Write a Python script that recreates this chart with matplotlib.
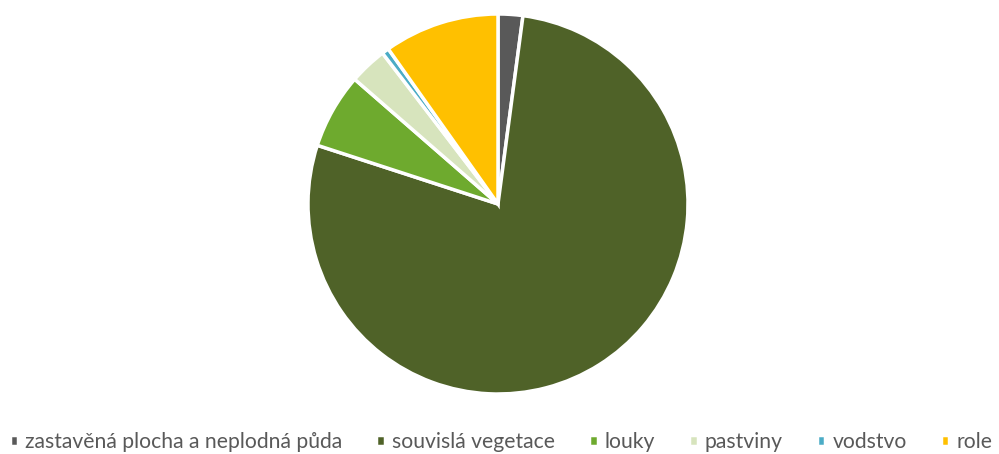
import matplotlib
matplotlib.use("Agg")
import matplotlib.pyplot as plt

labels = ["zastavěná plocha a neplodná půda", "souvislá vegetace", "louky", "pastviny", "vodstvo", "role"]
values = [2.1, 77.9, 6.4, 3.2, 0.6, 9.8]
colors = ["#595959", "#4F6228", "#6EAA2E", "#D7E4BD", "#4BACC6", "#FFC000"]

W, H = 999, 454
fig = plt.figure(figsize=(W/100, H/100), dpi=100)
cx, cy, r = 498, 204, 190
ax = fig.add_axes([(cx - r)/W, (H - cy - r)/H, 2*r/W, 2*r/H])
wedges, _ = ax.pie(values, colors=colors, startangle=90, counterclock=False,
                   wedgeprops=dict(edgecolor="white", linewidth=2.5), radius=1)
ax.set_xlim(-1, 1); ax.set_ylim(-1, 1)
ax.set_aspect("equal")
ax.axis("off")

fig.legend(wedges, labels, loc="center", bbox_to_anchor=(0.5015, 1 - 442/H), ncol=6,
           frameon=False, handlelength=0.42, handleheight=0.42,
           handletextpad=0.33, columnspacing=1.6, prop={"family": "Lato", "size": 15.2},
           labelcolor="#595959", borderpad=0, borderaxespad=0)
fig.savefig("out.png", dpi=100)
